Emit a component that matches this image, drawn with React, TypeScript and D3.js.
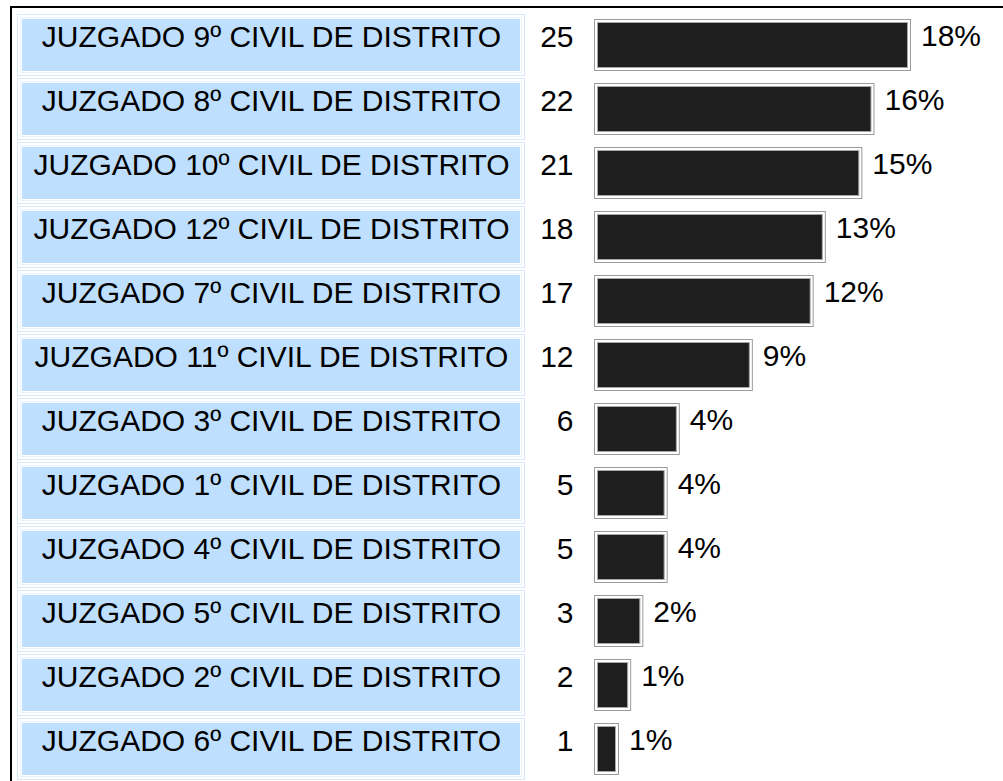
import React from "react";
import * as d3 from "d3";

const categories: string[] = [
  "JUZGADO 9º CIVIL DE DISTRITO",
  "JUZGADO 8º CIVIL DE DISTRITO",
  "JUZGADO 10º CIVIL DE DISTRITO",
  "JUZGADO 12º CIVIL DE DISTRITO",
  "JUZGADO 7º CIVIL DE DISTRITO",
  "JUZGADO 11º CIVIL DE DISTRITO",
  "JUZGADO 3º CIVIL DE DISTRITO",
  "JUZGADO 1º CIVIL DE DISTRITO",
  "JUZGADO 4º CIVIL DE DISTRITO",
  "JUZGADO 5º CIVIL DE DISTRITO",
  "JUZGADO 2º CIVIL DE DISTRITO",
  "JUZGADO 6º CIVIL DE DISTRITO",
];
const values: number[] = [25, 22, 21, 18, 17, 12, 6, 5, 5, 3, 2, 1];
const percentLabels: string[] = ["18%", "16%", "15%", "13%", "12%", "9%", "4%", "4%", "4%", "2%", "1%", "1%"];

const W = 1003;
const H = 781;
const FONT = "'Liberation Sans', Arial, sans-serif";
const FS = 30;

export default function App() {
  const y = d3
    .scaleBand<string>()
    .domain(categories)
    .range([14, 14 + 64 * categories.length])
    .padding(0);
  const w = d3
    .scaleLinear()
    .domain([0, d3.max(values) as number])
    .range([12.83, 317]);

  const cellX0 = 17;
  const cellX1 = 525;
  const barX = 594;

  return (
    <svg
      width={W}
      height={H}
      style={{ position: "absolute", left: 0, top: 0, display: "block", background: "#fff" }}
    >
      <rect x={0} y={0} width={W} height={H} fill="#ffffff" />
      {categories.map((c, i) => {
        const top = y(c) as number;
        const v = values[i];
        const bw = w(v);
        return (
          <g key={c}>
            <rect x={cellX0 + 0.5} y={top + 0.5} width={cellX1 - cellX0 - 1} height={61} fill="#ffffff" stroke="#d9e9fb" strokeWidth={1} />
            <rect x={cellX0 + 3.5} y={top + 3.5} width={cellX1 - cellX0 - 7} height={55} fill="none" stroke="#e9f3fe" strokeWidth={1} />
            <rect x={cellX0 + 5} y={top + 5} width={cellX1 - cellX0 - 10} height={52} fill="#bfdfff" />
            <text
              x={(cellX0 + cellX1) / 2 + 0.5}
              y={top + 32.5}
              textAnchor="middle"
              fontFamily={FONT}
              fontSize={FS}
              fill="#000"
            >
              {c}
            </text>
            <text x={573.5} y={top + 32.5} textAnchor="end" fontFamily={FONT} fontSize={FS} fill="#000">
              {v}
            </text>
            <rect x={barX + 0.5} y={top + 5.5} width={bw - 1} height={51} fill="#ffffff" stroke="#9a9a9a" strokeWidth={1} />
            <rect x={barX + 3.5} y={top + 8.5} width={bw - 7} height={45} fill="#1e1e1e" stroke="#a8a8a8" strokeWidth={1} />
            <text x={barX + bw + 10} y={top + 31.5} fontFamily={FONT} fontSize={FS} fill="#000">
              {percentLabels[i]}
            </text>
          </g>
        );
      })}
      <rect x={11} y={7} width={W + 20} height={H + 20} fill="none" stroke="#000" strokeWidth={2} />
    </svg>
  );
}
